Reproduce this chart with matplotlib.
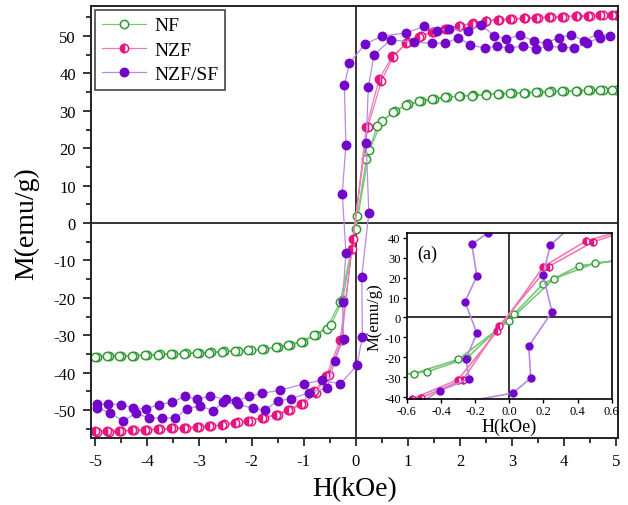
import numpy as np
import matplotlib
matplotlib.use("Agg")
import matplotlib.pyplot as plt
from matplotlib.ticker import MultipleLocator

plt.rcParams["font.family"] = ["Liberation Serif", "DejaVu Serif"]
plt.rcParams["axes.unicode_minus"] = False

# NF: descending (+5 -> -5) and ascending (-5 -> +5) branches
nf_h_desc = [5.0, 4.75, 4.5, 4.25, 4.0, 3.75, 3.5, 3.25, 3.0, 2.75, 2.5, 2.25, 2.0, 1.75, 1.5, 1.25, 1.0, 0.75, 0.5, 0.26,
             0.0, -0.3, -0.56, -0.77, -1.02, -1.27, -1.5, -1.76, -2.02, -2.27, -2.53, -2.77, -3.0, -3.26, -3.5, -3.75,
             -4.0, -4.26, -4.5, -4.73, -4.96]
nf_m_desc = [35.7, 35.6, 35.5, 35.4, 35.3, 35.2, 35.0, 34.9, 34.8, 34.6, 34.4, 34.2, 34.0, 33.7, 33.2, 32.6, 31.7, 30.0,
             27.3, 19.4, -1.6, -21.1, -28.2, -30.0, -31.7, -32.6, -33.2, -33.7, -34.0, -34.1, -34.3, -34.5, -34.7,
             -34.8, -35.0, -35.1, -35.2, -35.4, -35.5, -35.6, -35.7]
nf_h_asc = [-5.0, -4.77, -4.54, -4.3, -4.04, -3.8, -3.54, -3.3, -3.04, -2.81, -2.57, -2.31, -2.06, -1.8, -1.54, -1.31,
            -1.06, -0.81, -0.48, -0.25, 0.03, 0.2, 0.41, 0.71, 0.96, 1.21, 1.46, 1.72, 1.98, 2.23, 2.49, 2.73, 2.96,
            3.22, 3.46, 3.71, 3.96, 4.22, 4.46, 4.69, 4.92]
nf_m_asc = [-35.7, -35.6, -35.5, -35.4, -35.3, -35.2, -35.0, -34.9, -34.8, -34.6, -34.4, -34.2, -34.0, -33.7, -33.2,
            -32.6, -31.7, -30.0, -27.3, -20.5, 2.0, 17.0, 26.0, 29.6, 31.5, 32.5, 33.1, 33.6, 33.9, 34.1, 34.3, 34.5,
            34.7, 34.8, 35.0, 35.1, 35.2, 35.4, 35.5, 35.6, 35.7]

# NZF
nzf_h_desc = [5.0, 4.75, 4.5, 4.25, 4.0, 3.75, 3.5, 3.25, 3.0, 2.75, 2.5, 2.25, 2.0, 1.75, 1.5, 1.25, 1.0, 0.7, 0.45,
              0.2, -0.07, -0.3, -0.57, -0.77, -1.02, -1.27, -1.5, -1.76, -2.02, -2.27, -2.53, -2.77, -3.0, -3.26,
              -3.5, -3.75, -4.0, -4.26, -4.5, -4.73, -4.96]
nzf_m_desc = [55.6, 55.5, 55.4, 55.3, 55.2, 55.0, 54.9, 54.7, 54.5, 54.3, 54.0, 53.5, 52.8, 52.0, 51.2, 50.0, 48.4,
              44.6, 38.5, 25.6, -6.8, -31.2, -41.0, -45.5, -48.4, -50.0, -51.3, -52.0, -52.8, -53.1, -53.8, -54.3,
              -54.5, -54.8, -54.9, -55.1, -55.3, -55.4, -55.6, -55.8, -55.8]
nzf_h_asc = [-5.0, -4.77, -4.54, -4.3, -4.04, -3.8, -3.54, -3.3, -3.04, -2.81, -2.57, -2.31, -2.06, -1.8, -1.54, -1.31,
             -1.06, -0.81, -0.52, -0.27, -0.06, 0.23, 0.49, 0.72, 0.97, 1.21, 1.46, 1.72, 1.98, 2.23, 2.49, 2.73,
             2.96, 3.22, 3.46, 3.71, 3.96, 4.22, 4.46, 4.69, 4.92]
nzf_m_asc = [-55.7, -55.6, -55.5, -55.4, -55.2, -55.0, -54.9, -54.7, -54.5, -54.3, -54.0, -53.5, -52.8, -52.0, -51.2,
             -50.0, -48.3, -45.0, -40.5, -31.2, -4.3, 25.6, 38.0, 44.5, 48.0, 49.8, 51.0, 51.9, 52.7, 53.2, 54.1,
             54.4, 54.6, 54.8, 54.9, 55.1, 55.2, 55.3, 55.4, 55.5, 55.6]

# NZF/SF
sf_h_desc = [4.88, 4.64, 4.38, 4.13, 3.89, 3.66, 3.41, 3.16, 2.88, 2.65, 2.41, 2.16, 1.79, 1.56, 1.31, 0.96, 0.51,
             0.18, -0.124, -0.22, -0.19, -0.26, -0.19, -0.255, -0.235, -0.407, -0.55, -0.9, -1.24, -1.5, -1.74,
             -1.98, -2.27, -2.55, -2.74, -2.99, -3.24, -3.47, -3.72, -3.97, -4.22, -4.46, -4.71, -4.96]
sf_m_desc = [50.1, 50.5, 48.8, 50.3, 49.6, 48.1, 48.6, 50.3, 49.2, 50.1, 52.9, 51.3, 51.9, 51.4, 52.6, 50.8, 50.0,
             47.9, 42.7, 36.8, 20.8, 7.9, -7.9, -21.0, -30.9, -36.8, -44.2, -45.3, -47.0, -47.5, -50.0, -49.5,
             -48.4, -47.9, -50.2, -48.8, -49.7, -52.1, -52.1, -52.1, -50.8, -52.9, -50.8, -49.3]
sf_h_asc = [-4.96, -4.76, -4.51, -4.28, -4.02, -3.78, -3.52, -3.28, -3.04, -2.79, -2.5, -2.29, -2.04, -1.8, -1.46,
            -1.0, -0.65, -0.3, 0.022, 0.126, 0.114, 0.25, 0.198, 0.24, 0.35, 0.67, 1.12, 1.47, 1.72, 1.97, 2.19,
            2.48, 2.71, 2.93, 3.21, 3.45, 3.68, 3.95, 4.18, 4.43, 4.69]
sf_m_asc = [-48.4, -48.4, -48.5, -49.3, -49.7, -48.5, -47.9, -46.3, -47.1, -46.2, -47.1, -47.5, -46.3, -45.5, -44.7,
            -43.0, -42.0, -43.0, -38.0, -30.4, -14.4, 2.8, 21.4, 36.3, 45.0, 49.0, 48.3, 48.1, 48.1, 49.5, 47.7,
            46.7, 47.4, 46.7, 47.4, 46.5, 47.2, 47.0, 46.8, 48.1, 49.6]

green, green_line = "#2f9a34", "#78c878"
pink, pink_line = "#e8157f", "#f07ab2"
purple, purple_line = "#7406cc", "#b88ae6"


def draw(ax, ms, lw, mew):
    ax.plot(nf_h_desc + nf_h_asc, nf_m_desc + nf_m_asc, "-o", color=green_line, lw=lw, ms=ms,
            mfc="white", mec=green, mew=mew, label="NF")
    ax.plot(nzf_h_desc + nzf_h_asc, nzf_m_desc + nzf_m_asc, "-o", color=pink_line, lw=lw, ms=ms,
            fillstyle="left", mfc=pink, mfcalt="white", mec=pink, mew=mew, label="NZF")
    ax.plot(sf_h_desc + sf_h_asc, sf_m_desc + sf_m_asc, "-o", color=purple_line, lw=lw, ms=ms,
            mfc=purple, mec=purple, mew=mew, label="NZF/SF")
    ax.axhline(0, color="black", lw=1.1, zorder=1)
    ax.axvline(0, color="black", lw=1.1, zorder=1)


fig = plt.figure(figsize=(6.28, 5.06), dpi=100)
ax = fig.add_axes([0.145, 0.132, 0.839, 0.854])
draw(ax, 6, 0.9, 1.1)
ax.set_xlim(-5.08, 5.03)
ax.set_ylim(-57.5, 58)
ax.xaxis.set_major_locator(MultipleLocator(1))
ax.xaxis.set_minor_locator(MultipleLocator(0.5))
ax.yaxis.set_major_locator(MultipleLocator(10))
ax.yaxis.set_minor_locator(MultipleLocator(5))
ax.tick_params(which="both", direction="out", top=False, right=False, labelsize=12, width=1.1)
ax.tick_params(which="major", length=6, pad=5)
ax.tick_params(which="minor", length=3.5)
for s in ax.spines.values():
    s.set_linewidth(1.4)
    s.set_color("#222222")
ax.set_xlabel("H(kOe)", fontsize=20, labelpad=5)
ax.set_ylabel("M(emu/g)", fontsize=20, labelpad=10)
leg = ax.legend(loc="upper left", fontsize=14, handlelength=2.3, handletextpad=0.4, labelspacing=0.35,
                borderaxespad=0.2, borderpad=0.35, fancybox=False, edgecolor="#444444", framealpha=1, numpoints=1)
leg.get_frame().set_linewidth(1.2)

ins = fig.add_axes([0.648, 0.2095, 0.326, 0.328])
draw(ins, 5, 1.2, 1.0)
ins.set_xlim(-0.6, 0.6)
ins.set_ylim(-41, 42.5)
ins.yaxis.set_major_locator(MultipleLocator(10))
ins.set_xticks(np.arange(-0.6, 0.61, 0.2))
ins.set_xticklabels(["-0.6", "-0.4", "-0.2", "0.0", "0.2", "0.4", "0.6"])
ins.tick_params(direction="out", length=3, width=1, labelsize=9, pad=1.5, top=False, right=False)
for s in ins.spines.values():
    s.set_linewidth(1.2)
ins.set_xlabel("H(kOe)", fontsize=13, labelpad=0)
ins.set_ylabel("M(emu/g)", fontsize=12, labelpad=1)
ins.text(0.05, 0.93, "(a)", transform=ins.transAxes, fontsize=13, va="top", ha="left")

fig.savefig("out.png", dpi=100)
